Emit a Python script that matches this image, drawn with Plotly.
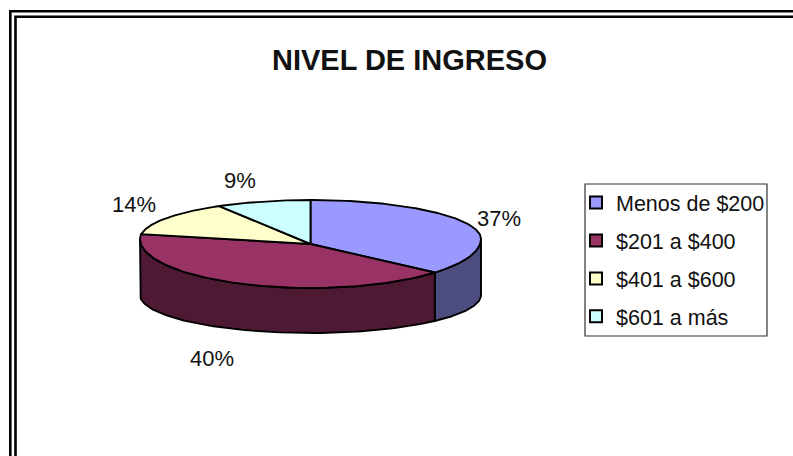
import numpy as np
import plotly.graph_objects as go

categories = ["Menos de $200", "$201 a $400", "$401 a $600", "$601 a más"]
values = [37, 40, 14, 9]
top_colors = ["#9999FF", "#993366", "#FFFFCC", "#CCFFFF"]
side_colors = ["#4D4D80", "#4D1933", "#808066", "#668080"]
label_positions = [(499, 218), (212, 358), (134, 204), (240, 180)]

# pie geometry in page pixels, the back of the disc is flatter than the front
CX, CY = 310.5, 244
RX = 170.5
TOP_Y, BOTTOM_Y = 239, 295
BACK_RY, FRONT_RY = 39, 49
BOTTOM_RY = 38


def rim(deg, base_y=TOP_Y, front_ry=FRONT_RY):
    a = np.radians(deg)
    ry = np.where(np.cos(a) > 0, BACK_RY, front_ry)
    return CX + RX * np.sin(a), base_y - ry * np.cos(a)


fig = go.Figure()

edges = np.cumsum([0] + values) / sum(values) * 360

# side walls first, only the part facing the viewer
for i in range(len(values)):
    start, end = max(edges[i], 90), min(edges[i + 1], 270)
    if start >= end:
        continue
    deg = np.linspace(start, end, 80)
    x1, y1 = rim(deg)
    x2, y2 = rim(deg[::-1], BOTTOM_Y, BOTTOM_RY)
    fig.add_trace(
        go.Scatter(
            x=np.r_[x1, x2, x1[0]],
            y=np.r_[y1, y2, y1[0]],
            mode="lines",
            fill="toself",
            fillcolor=side_colors[i],
            line=dict(color="black", width=1.9),
            showlegend=False,
            hoverinfo="skip",
        )
    )

# top slices
for i in range(len(values)):
    deg = np.linspace(edges[i], edges[i + 1], 120)
    x1, y1 = rim(deg)
    fig.add_trace(
        go.Scatter(
            x=np.r_[CX, x1, CX],
            y=np.r_[CY, y1, CY],
            mode="lines",
            fill="toself",
            fillcolor=top_colors[i],
            line=dict(color="black", width=1.9),
            showlegend=False,
            name=categories[i],
            hoverinfo="name",
        )
    )

# legend entries
for name, color in zip(categories, top_colors):
    fig.add_trace(
        go.Scatter(
            x=[None],
            y=[None],
            mode="markers",
            name=name,
            legendgroup=name,
            marker=dict(
                symbol="square",
                size=12,
                color=color,
                line=dict(color="black", width=1.8),
            ),
        )
    )

for value, (x, y) in zip(values, label_positions):
    fig.add_annotation(
        x=x,
        y=y,
        text=f"{value}%",
        showarrow=False,
        font=dict(size=22, color="#111111"),
    )

# double frame, open on the right and at the bottom
for offset_x, offset_y in [(10.3, 11.3), (15.5, 16.8)]:
    fig.add_shape(
        type="path",
        path=f"M {offset_x} 456 L {offset_x} {offset_y} L 793 {offset_y}",
        line=dict(color="black", width=2.6),
    )

# legend box, plotly's own box would be wider than the original
fig.add_shape(
    type="rect", x0=585, x1=767, y0=184, y1=336, line=dict(color="#333333", width=1.2)
)

fig.update_layout(
    width=793,
    height=456,
    margin={"r": 0, "t": 0, "l": 0, "b": 0},
    paper_bgcolor="white",
    plot_bgcolor="white",
    font=dict(family="Liberation Sans, Arial, sans-serif", color="#111111"),
    title=dict(
        text="<b>NIVEL DE INGRESO</b>",
        x=409.5 / 793,
        xanchor="center",
        y=1 - 60 / 456,
        yanchor="middle",
        font=dict(size=29, color="#111111"),
    ),
    xaxis=dict(range=[0, 793], visible=False, fixedrange=True),
    yaxis=dict(range=[456, 0], visible=False, fixedrange=True),
    showlegend=True,
    legend=dict(
        x=576 / 793,
        xanchor="left",
        y=1 - 182 / 456,
        yanchor="top",
        font=dict(size=21.5, color="#111111"),
        bgcolor="rgba(0,0,0,0)",
        tracegroupgap=7,
        itemsizing="constant",
    ),
)

# the page margin would push the figure 8px off
fig.write_html(
    "out.html",
    config={"displayModeBar": False},
    post_script="document.body.style.margin = '0';",
)
